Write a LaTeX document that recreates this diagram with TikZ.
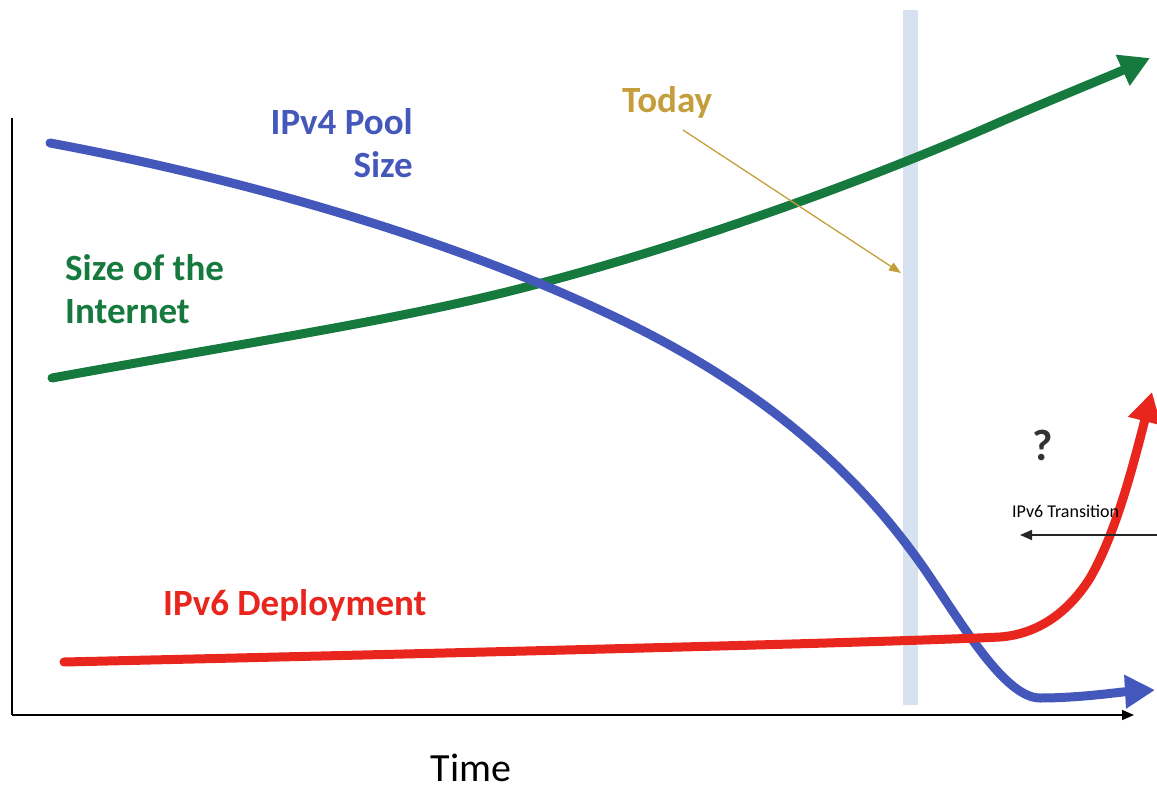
\documentclass[tikz,border=0pt]{standalone}
\usepackage{fontspec}
\setmainfont{Carlito}
\usetikzlibrary{arrows.meta}
\definecolor{ipvfour}{RGB}{68,88,188}
\definecolor{inet}{RGB}{22,122,62}
\definecolor{ipvsix}{RGB}{232,38,30}
\definecolor{today}{RGB}{196,158,58}
\definecolor{band}{RGB}{214,226,240}
\tikzset{
  curve/.style={line width=9pt, line cap=round, -{Triangle[length=30pt,width=32pt]}},
  lbl/.style={font=\fontsize{37}{42}\selectfont\bfseries, inner sep=0pt},
  axis/.style={line width=1.4pt, -{Triangle[length=12pt,width=10pt]}}
}
\begin{document}
\begin{tikzpicture}[x=1pt,y=-1pt]
\useasboundingbox (0,0) rectangle (1157,789);
% today band
\fill[band] (903,10) rectangle (918,705);
% axes
\coordinate (origin) at (12,715);
\coordinate (ytop) at (12,118);
\coordinate (xend) at (1134,715);
\draw[line width=1.4pt] (ytop) -- (origin);
\draw[axis] (origin) -- (xend);
% curves
\draw[curve, inet] (52,378) .. controls (250,342) and (400,320) .. (530,286)
  .. controls (700,242) and (880,175) .. (1000,122)
  .. controls (1060,96) and (1110,76) .. (1150,58);
\draw[curve, ipvfour] (50,143) .. controls (250,180) and (450,240) .. (600,310)
  .. controls (720,365) and (830,440) .. (913,553)
  .. controls (950,602) and (1000,698) .. (1040,698)
  .. controls (1080,698) and (1120,692) .. (1155,690);
\draw[curve, ipvsix] (64,662) .. controls (500,652) and (900,642) .. (1000,637)
  .. controls (1040,634) and (1070,610) .. (1090,578)
  .. controls (1115,535) and (1132,470) .. (1152,392);
% labels
\node[lbl, text=ipvfour, anchor=east] (poola) at (413,122) {IPv4 Pool};
\node[lbl, text=ipvfour, anchor=east] (poolb) at (413,165) {Size};
\node[lbl, text=inet, anchor=west] (inta) at (65,268) {Size of the};
\node[lbl, text=inet, anchor=west] (intb) at (65,312) {Internet};
\node[lbl, text=ipvsix, anchor=west] (dep) at (163,605) {IPv6 Deployment};
\node[lbl, text=today, anchor=west] (today) at (622,102) {Today};
\node[text=black!80, inner sep=0pt, font=\fontsize{44}{48}\selectfont\bfseries] (q) at (1043,445) {?};
\node[font=\fontsize{18}{21}\selectfont, inner sep=0pt, anchor=west] (trans) at (1012,511) {IPv6 Transition};
\node[font=\fontsize{40}{46}\selectfont, inner sep=0pt, anchor=base] (time) at (471,781) {Time};
% today arrow
\coordinate (tstart) at (683,130);
\coordinate (tend) at (901,273);
\draw[today, line width=1.3pt, -{Triangle[length=12pt,width=9pt]}] (tstart) -- (tend);
% transition arrow
\coordinate (trs) at (1157,535);
\coordinate (tre) at (1020,535);
\draw[black!85, line width=1.6pt, -{Triangle[length=12pt,width=10pt]}] (trs) -- (tre);
\end{tikzpicture}
\end{document}
